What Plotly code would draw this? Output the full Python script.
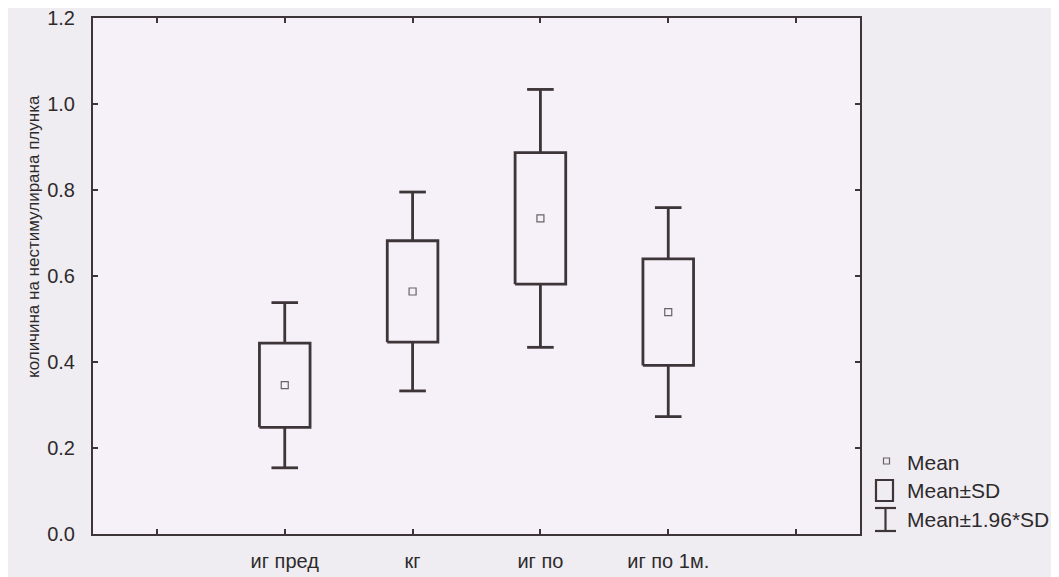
import plotly.graph_objects as go

# ---- data ----
categories = ["иг пред", "кг", "иг по", "иг по 1м."]
cat_pos = [1, 2, 3, 4]
means = [0.346, 0.564, 0.734, 0.516]
sds = [0.098, 0.118, 0.153, 0.124]
y_ticks = [0.0, 0.2, 0.4, 0.6, 0.8, 1.0, 1.2]

# ---- style ----
OFF = 8  # default body margin of the html page
W, H = 1059 - OFF, 577 - OFF
ML, MR, MT, MB = 93 - OFF, 199, 18 - OFF, 43
LINE = "#3e3539"
TXT = "#2e2a2c"
FONT = "Liberation Sans, Arial, sans-serif"
BOX_HALF = 0.198
CAP_HALF = 0.104

box_x, box_y, wh_x, wh_y = [], [], [], []
for p, m, s in zip(cat_pos, means, sds):
    lo, hi = m - s, m + s
    wlo, whi = m - 1.96 * s, m + 1.96 * s
    box_x += [p - BOX_HALF, p + BOX_HALF, p + BOX_HALF, p - BOX_HALF, p - BOX_HALF, None]
    box_y += [lo, lo, hi, hi, lo, None]
    wh_x += [p, p, None, p - CAP_HALF, p + CAP_HALF, None,
             p, p, None, p - CAP_HALF, p + CAP_HALF, None]
    wh_y += [hi, whi, None, whi, whi, None,
             lo, wlo, None, wlo, wlo, None]

fig = go.Figure()
fig.add_trace(go.Scatter(x=wh_x, y=wh_y, mode="lines",
                         line=dict(color=LINE, width=2.8), showlegend=False,
                         hoverinfo="skip"))
fig.add_trace(go.Scatter(x=box_x, y=box_y, mode="lines",
                         line=dict(color=LINE, width=2.8), showlegend=False,
                         hoverinfo="skip"))
fig.add_trace(go.Scatter(x=cat_pos, y=means, mode="markers",
                         marker=dict(symbol="square-open", size=7,
                                     color="#6a6266", line=dict(width=1.2)),
                         showlegend=False))

# ---- manual legend (paper coordinates; inputs are page pixels) ----
pw = W - ML - MR
ph = H - MT - MB


def px(x):
    return (x - OFF - ML) / pw


def py(y):
    return (H - MB - (y - OFF)) / ph


shapes = []
shapes.append(dict(type="rect", xref="paper", yref="paper",
                   x0=px(883.5), x1=px(889.5), y0=py(458), y1=py(464),
                   line=dict(color="#6a6266", width=1.2)))
shapes.append(dict(type="rect", xref="paper", yref="paper",
                   x0=px(876), x1=px(893), y0=py(480), y1=py(501),
                   line=dict(color=LINE, width=2.2)))
shapes.append(dict(type="line", xref="paper", yref="paper",
                   x0=px(875), x1=px(896), y0=py(508), y1=py(508),
                   line=dict(color=LINE, width=2.2)))
shapes.append(dict(type="line", xref="paper", yref="paper",
                   x0=px(885.5), x1=px(885.5), y0=py(508), y1=py(531),
                   line=dict(color=LINE, width=2.2)))
shapes.append(dict(type="line", xref="paper", yref="paper",
                   x0=px(875), x1=px(896), y0=py(531), y1=py(531),
                   line=dict(color=LINE, width=2.2)))

annotations = []
for text, yy in [("Mean", 462), ("Mean±SD", 490), ("Mean±1.96*SD", 519)]:
    annotations.append(dict(text=text, xref="paper", yref="paper",
                            x=px(905), y=py(yy), xanchor="left", yanchor="middle",
                            showarrow=False, font=dict(size=21, color=TXT, family=FONT)))
annotations.append(dict(text="количина на нестимулирана плунка", xref="paper", yref="paper",
                        x=px(33), y=py(237), xanchor="center", yanchor="middle",
                        textangle=-90, showarrow=False,
                        font=dict(size=17, color=TXT, family=FONT)))

fig.update_layout(
    width=W, height=H,
    margin=dict(l=ML, r=MR, t=MT, b=MB, autoexpand=False),
    paper_bgcolor="#efedf1",
    plot_bgcolor="#f6f1f8",
    font=dict(family=FONT, color=TXT, size=18),
    shapes=shapes,
    annotations=annotations,
    showlegend=False,
)
fig.update_xaxes(range=[-0.5, 5.5], tickmode="array",
                 tickvals=[0, 1, 2, 3, 4, 5],
                 ticktext=[""] + categories + [""],
                 ticks="inside", ticklen=5, tickwidth=1.5, tickcolor=LINE,
                 showline=True, linecolor=LINE, linewidth=2, mirror="ticks",
                 showgrid=False, zeroline=False, automargin=False,
                 ticklabelstandoff=8, ticklabeloverflow="allow",
                 tickfont=dict(size=20, color=TXT, family=FONT))
fig.update_yaxes(range=[0, 1.2], tickmode="array", tickvals=y_ticks,
                 ticktext=[f"{v:.1f}" for v in y_ticks],
                 ticks="inside", ticklen=5, tickwidth=1.5, tickcolor=LINE,
                 showline=True, linecolor=LINE, linewidth=2, mirror="ticks",
                 showgrid=False, zeroline=False, automargin=False,
                 ticklabelstandoff=12, ticklabeloverflow="allow",
                 tickfont=dict(size=20, color=TXT, family=FONT))

fig.write_html("out.html")
